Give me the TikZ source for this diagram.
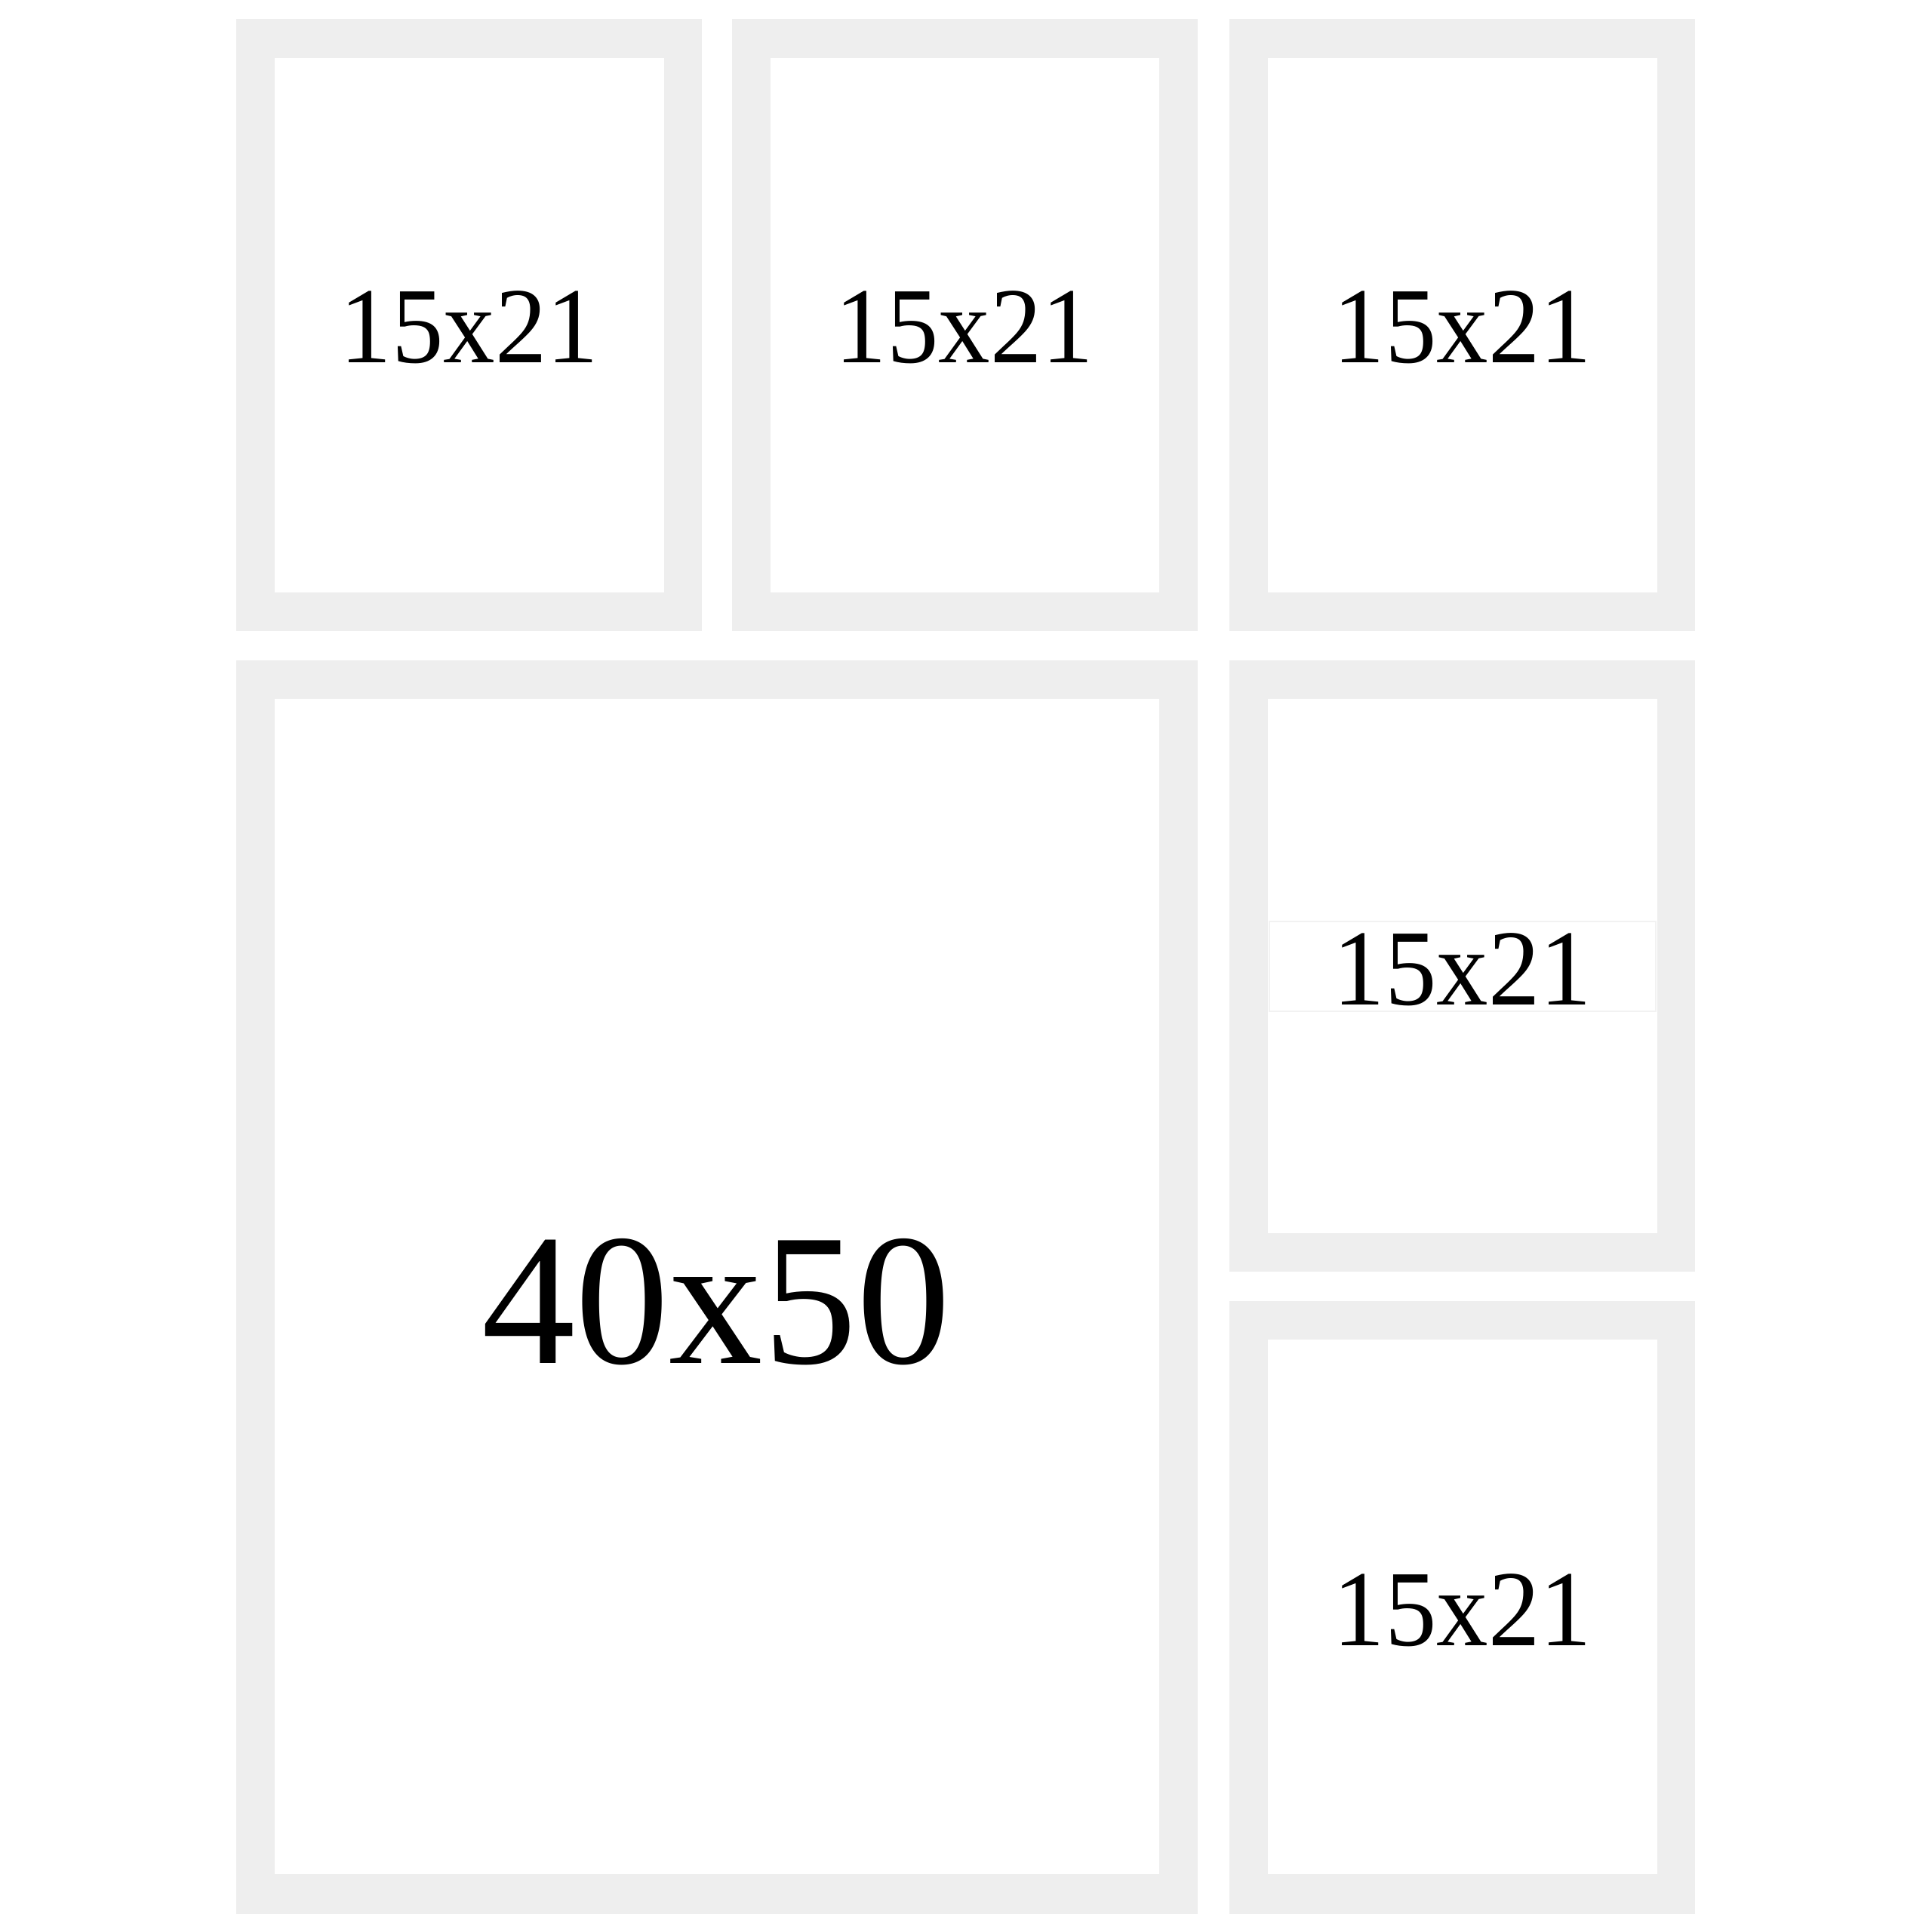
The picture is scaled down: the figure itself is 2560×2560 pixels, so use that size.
\documentclass[tikz,border=0pt]{standalone}
\usepackage{fontspec}
\setmainfont{Liberation Serif}
\newfontfamily\smallserif[FakeStretch=0.955]{Liberation Serif}
\definecolor{framegray}{HTML}{EEEEEE}
\definecolor{boxline}{HTML}{F2F2F2}
\tikzset{
  frameouter/.style={fill=framegray},
  frameinner/.style={fill=white},
  smalllabel/.style={anchor=base, inner sep=0pt, text=black, font=\smallserif\fontsize{43}{50}\selectfont},
  biglabel/.style={anchor=base, inner sep=0pt, text=black, font=\fontsize{74.5}{86}\selectfont},
  labelbox/.style={fill=white, draw=boxline, line width=0.6pt}
}
\begin{document}
\begin{tikzpicture}[x=0.3pt,y=-0.3pt]
\useasboundingbox (0,0) rectangle (2560,2560);
\fill[white] (0,0) rectangle (2560,2560);
% top row
\fill[frameouter] (313,25) rectangle (930,836);
\fill[frameinner] (364,77) rectangle (880,785);
\fill[frameouter] (970,25) rectangle (1587,836);
\fill[frameinner] (1021,77) rectangle (1536,785);
\fill[frameouter] (1629,25) rectangle (2246,836);
\fill[frameinner] (1680,77) rectangle (2196,785);
% big frame
\fill[frameouter] (313,875) rectangle (1587,2536);
\fill[frameinner] (364,926) rectangle (1536,2483);
% right middle
\fill[frameouter] (1629,875) rectangle (2246,1685);
\fill[frameinner] (1680,926) rectangle (2196,1634);
% right bottom
\fill[frameouter] (1629,1724) rectangle (2246,2536);
\fill[frameinner] (1680,1775) rectangle (2196,2483);
% label box in right middle frame
\node[labelbox, minimum width=512*0.3pt, minimum height=119*0.3pt, inner sep=0pt] (midbox) at (1938,1280) {};
% labels
\node[smalllabel] (l1) at (622,480) {15x21};
\node[smalllabel] (l2) at (1278,480) {15x21};
\node[smalllabel] (l3) at (1938,480) {15x21};
\node[smalllabel] (l4) at (1938,1331) {15x21};
\node[smalllabel] (l5) at (1938,2180) {15x21};
\node[biglabel] (l6) at (949,1806) {40x50};
\end{tikzpicture}
\end{document}
